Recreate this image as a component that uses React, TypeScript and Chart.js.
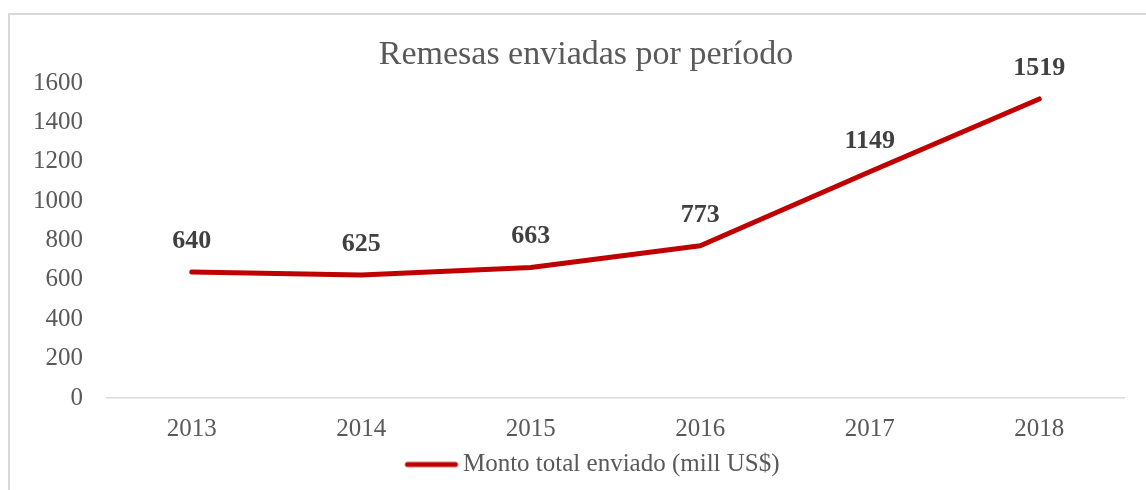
import React, { useEffect, useRef } from "react";
import { Chart, registerables } from "chart.js";

Chart.register(...registerables);

const categories = ["2013", "2014", "2015", "2016", "2017", "2018"];
const montoValues = [640, 625, 663, 773, 1149, 1519];
const yTicks = [0, 200, 400, 600, 800, 1000, 1200, 1400, 1600];
const titleText = "Remesas enviadas por período";
const seriesLabel = "Monto total enviado (mill US$)";

const FONT = "'Liberation Serif', 'Times New Roman', serif";
const LINE_COLOR = "#C00000";

const dataLabelPlugin = {
  id: "dataLabels",
  afterDatasetsDraw(chart: any) {
    const ctx = chart.ctx;
    const meta = chart.getDatasetMeta(0);
    const ds = chart.data.datasets[0];
    ctx.save();
    ctx.font = `bold 26px ${FONT}`;
    ctx.fillStyle = "#404040";
    ctx.textAlign = "center";
    ctx.textBaseline = "middle";
    meta.data.forEach((pt: any, i: number) => {
      ctx.fillText(String(ds.data[i]), pt.x, pt.y - 31);
    });
    ctx.restore();
  },
};

const titlePlugin = {
  id: "customTitle",
  afterDraw(chart: any) {
    const ctx = chart.ctx;
    ctx.save();
    ctx.font = `34px ${FONT}`;
    ctx.fillStyle = "#595959";
    ctx.textAlign = "center";
    ctx.textBaseline = "middle";
    ctx.fillText(titleText, 586, 55);
    ctx.restore();
  },
};

function makeLegendSwatch(): HTMLCanvasElement {
  const c = document.createElement("canvas");
  c.width = 100;
  c.height = 10;
  const g = c.getContext("2d");
  if (g) {
    g.strokeStyle = LINE_COLOR;
    g.lineWidth = 5;
    g.lineCap = "round";
    g.beginPath();
    g.moveTo(46, 5);
    g.lineTo(94, 5);
    g.stroke();
  }
  return c;
}

export default function App() {
  const ref = useRef<HTMLCanvasElement | null>(null);
  useEffect(() => {
    if (!ref.current) return;
    const swatch = makeLegendSwatch();
    const chart = new Chart(ref.current, {
      type: "line",
      data: {
        labels: categories,
        datasets: [
          {
            label: seriesLabel,
            data: montoValues,
            borderColor: LINE_COLOR,
            backgroundColor: LINE_COLOR,
            borderWidth: 5,
            borderCapStyle: "round",
            borderJoinStyle: "round",
            pointRadius: 0,
            pointHoverRadius: 0,
            pointStyle: swatch,
            tension: 0,
            fill: false,
          },
        ],
      },
      options: {
        animation: false,
        responsive: false,
        maintainAspectRatio: false,
        layout: { padding: { left: 28, right: 22, top: 83, bottom: 3 } },
        plugins: {
          title: { display: false },
          legend: {
            display: true,
            position: "bottom",
            labels: {
              usePointStyle: true,
              pointStyleWidth: 78,
              boxHeight: 10,
              color: "#595959",
              font: { family: FONT, size: 25 },
              padding: 10,
            },
          },
          tooltip: { enabled: false },
        },
        scales: {
          x: {
            type: "category",
            offset: true,
            grid: { display: false, drawTicks: false },
            border: { display: true, color: "#d9d9d9", width: 1.5 },
            afterFit(scale: any) {
              scale.height = 44;
            },
            ticks: {
              color: "#595959",
              font: { family: FONT, size: 25 },
              padding: 16,
              maxRotation: 0,
            },
          },
          y: {
            min: 0,
            max: 1600,
            afterBuildTicks(scale: any) {
              scale.ticks = yTicks.map((v) => ({ value: v }));
            },
            afterFit(scale: any) {
              scale.width = 79;
            },
            grid: { display: false, drawTicks: false },
            border: { display: false },
            ticks: {
              color: "#595959",
              font: { family: FONT, size: 25 },
              padding: 24,
              callback: (v: any) => String(v),
            },
          },
        },
      },
      plugins: [dataLabelPlugin, titlePlugin],
    } as any);
    return () => chart.destroy();
  }, []);

  return (
    <div
      style={{
        position: "absolute",
        left: 0,
        top: 0,
        width: 1146,
        height: 490,
        overflow: "hidden",
        background: "#ffffff",
      }}
    >
      <div
        style={{
          position: "absolute",
          left: 8,
          top: 13,
          width: 1300,
          height: 700,
          border: "2px solid #d9d9d9",
        }}
      />
      <canvas
        ref={ref}
        width={1146}
        height={490}
        style={{ position: "absolute", left: 0, top: 0, width: 1146, height: 490 }}
      />
    </div>
  );
}
